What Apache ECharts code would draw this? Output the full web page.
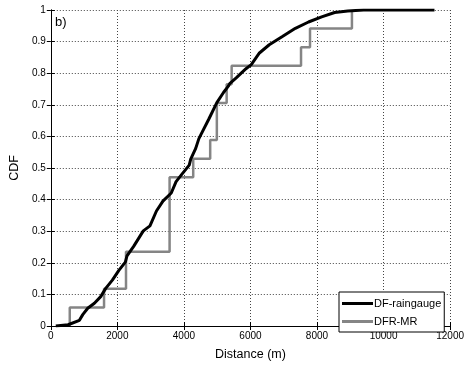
<!DOCTYPE html>
<html><head><meta charset="utf-8">
<script src="https://cdn.jsdelivr.net/npm/echarts@6/dist/echarts.min.js"></script>
<style>html,body{margin:0;padding:0;background:#fff}#c{width:467px;height:366px}</style>
</head><body><div id="c"></div>
<script>
// DF-raingauge empirical CDF (distance m, cumulative probability)
const rainX = [150, 520, 860, 960, 1110, 1310, 1500, 1650, 1850, 2045, 2240, 2290, 2490, 2780, 2980, 3175, 3370, 3620, 3765, 3960, 4160, 4205, 4355, 4450, 4750, 4990, 5190, 5335, 5385, 5580, 5730, 5875, 6025, 6270, 6565, 6960, 7350, 7745, 8140, 8530, 8925, 9400, 10000, 11530];
const rainY = [0, 0.004, 0.018, 0.036, 0.056, 0.072, 0.093, 0.119, 0.145, 0.176, 0.202, 0.222, 0.252, 0.301, 0.317, 0.364, 0.395, 0.421, 0.457, 0.483, 0.509, 0.528, 0.562, 0.593, 0.655, 0.707, 0.739, 0.759, 0.768, 0.786, 0.801, 0.815, 0.827, 0.864, 0.890, 0.916, 0.942, 0.962, 0.978, 0.992, 0.997, 1.0, 1.0, 1.0];
// DFR-MR step CDF (jumps in units of 1/17)
const mrX = [570, 570, 1600, 2260, 3570, 4280, 4790, 4990, 5285, 5435, 7520, 7790, 9050];
const mrY = [0, 1/17, 2/17, 4/17, 8/17, 9/17, 10/17, 12/17, 13/17, 14/17, 15/17, 16/17, 17/17];
const xTicks = [0, 2000, 4000, 6000, 8000, 10000, 12000];
const yTicks = [0, 0.1, 0.2, 0.3, 0.4, 0.5, 0.6, 0.7, 0.8, 0.9, 1];
const seriesNames = ['DF-raingauge', 'DFR-MR'];

const font = 'Liberation Sans, Arial, sans-serif';
const chart = echarts.init(document.getElementById('c'), null, {renderer: 'canvas'});
const tickFmt = v => String(+(+v).toFixed(1));
const baseX = {
  type: 'value', min: xTicks[0], max: xTicks[xTicks.length - 1], interval: 2000,
  axisLine: {show: true, lineStyle: {color: '#000', width: 1}},
  axisTick: {show: true, inside: true, length: 4, lineStyle: {color: '#000'}},
};
const baseY = {
  type: 'value', min: yTicks[0], max: yTicks[yTicks.length - 1], interval: 0.1,
  axisLine: {show: true, lineStyle: {color: '#000', width: 1}},
  axisTick: {show: true, inside: true, length: 4, lineStyle: {color: '#000'}},
};
chart.setOption({
  animation: false,
  backgroundColor: '#fff',
  grid: {left: 49, right: 11, top: 10, bottom: 36, containLabel: false},
  graphic: [{type: 'text', left: 55, top: 16, style: {text: 'b)', font: '13px ' + font, fill: '#000'}}],
  legend: {
    orient: 'vertical', left: 339, top: 292,
    data: seriesNames, icon: 'rect', itemWidth: 31, itemHeight: 3, itemGap: 7,
    padding: [6, 3, 5, 3], borderColor: '#000', borderWidth: 1, backgroundColor: '#fff',
    textStyle: {fontFamily: font, fontSize: 11, color: '#000', padding: [0, 0, 0, -4]}
  },
  xAxis: [
    Object.assign({}, baseX, {
      position: 'bottom', name: 'Distance (m)', nameLocation: 'middle', nameGap: 22,
      nameTextStyle: {fontFamily: font, fontSize: 12.5, color: '#000'},
      axisLabel: {fontFamily: font, fontSize: 10, color: '#000', margin: 5, formatter: v => String(v)},
      splitLine: {show: true, lineStyle: {color: '#444', type: [1, 2], width: 1}}
    }),
    Object.assign({}, baseX, {position: 'top', axisLabel: {show: false}, splitLine: {show: false}})
  ],
  yAxis: [
    Object.assign({}, baseY, {
      position: 'left', name: 'CDF', nameLocation: 'middle', nameGap: 29,
      nameTextStyle: {fontFamily: font, fontSize: 12.5, color: '#000'},
      axisLabel: {fontFamily: font, fontSize: 10, color: '#000', margin: 5, formatter: tickFmt},
      splitLine: {show: true, lineStyle: {color: '#444', type: [1, 2], width: 1}}
    }),
    Object.assign({}, baseY, {position: 'right', axisLabel: {show: false}, splitLine: {show: false}})
  ],
  series: [
    {
      name: seriesNames[0], type: 'line', xAxisIndex: 0, yAxisIndex: 0, z: 3,
      data: rainX.map((x, i) => [x, rainY[i]]), showSymbol: false, symbol: 'none',
      lineStyle: {color: '#000', width: 3}, itemStyle: {color: '#000'}
    },
    {
      name: seriesNames[1], type: 'line', xAxisIndex: 0, yAxisIndex: 0, step: 'end', z: 2,
      data: mrX.map((x, i) => [x, mrY[i]]), showSymbol: false, symbol: 'none',
      lineStyle: {color: '#858585', width: 2.5}, itemStyle: {color: '#858585'}
    }
  ]
});
</script></body></html>
